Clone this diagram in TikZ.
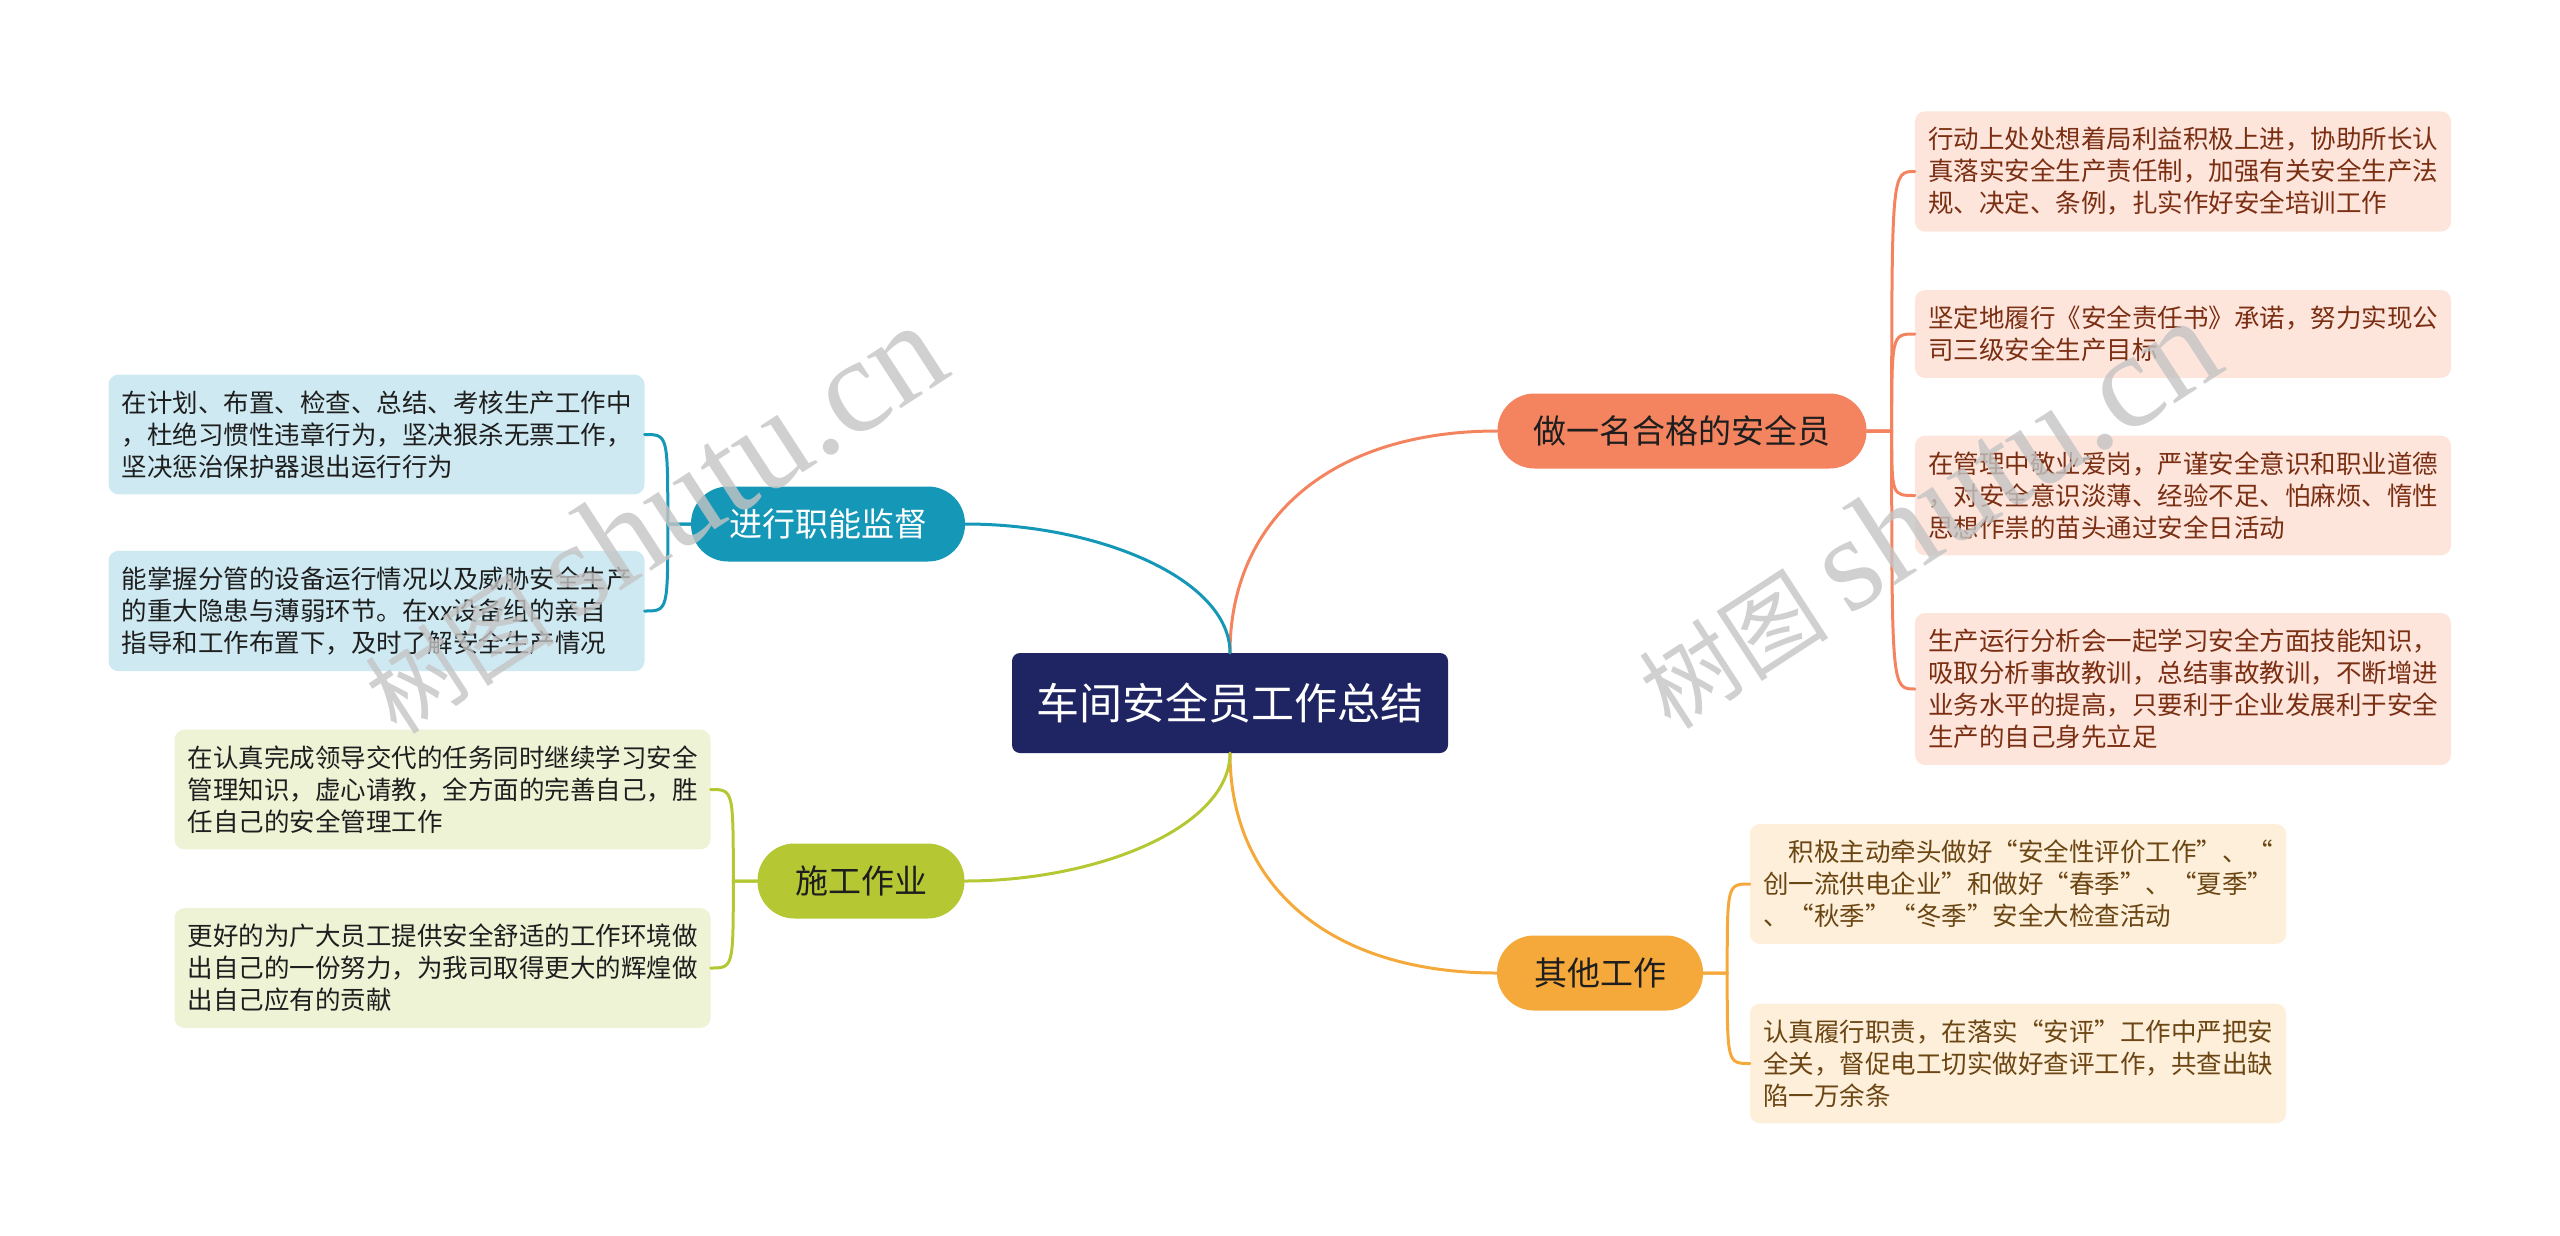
\documentclass[tikz,border=0pt]{standalone}
\usepackage{fontspec}
\setmainfont{Noto Sans CJK SC}
\newfontfamily\wmserif{Liberation Serif}
\usetikzlibrary{calc}
\definecolor{cNavy}{HTML}{1F2562}
\definecolor{cOrange}{HTML}{F4845F}
\definecolor{cAmber}{HTML}{F6A93B}
\definecolor{cTeal}{HTML}{1597B7}
\definecolor{cLime}{HTML}{B5C834}
\definecolor{lOrange}{HTML}{FDE5DC}
\definecolor{lAmber}{HTML}{FDEFD9}
\definecolor{lTeal}{HTML}{CEE9F1}
\definecolor{lLime}{HTML}{EFF3D6}
\definecolor{tOrange}{HTML}{7A2E12}
\definecolor{tAmber}{HTML}{6B4513}
\definecolor{tDark}{HTML}{1E1E1E}
\definecolor{wmGray}{HTML}{C4C4C4}
\begin{document}
\begin{tikzpicture}[x=1pt,y=-1pt,
  topic/.style={fill=cNavy, text=white, rounded corners=8pt, minimum width=436pt, minimum height=100pt, inner sep=0pt, font=\fontsize{43}{50}\selectfont},
  branch/.style={rounded corners=37pt, minimum height=75pt, inner sep=0pt, font=\fontsize{33}{40}\selectfont},
  leaf/.style={rounded corners=10pt, text width=510pt, inner xsep=13pt, inner ysep=16pt, align=left, font=\fontsize{25.5}{32}\selectfont},
  link/.style={line width=3pt, line cap=round},
  wmark/.style={rotate=33, text=wmGray, opacity=0.8, font=\fontsize{95}{95}\selectfont}]
\useasboundingbox (0,0) rectangle (2560,1235);
% centre and main branches
\node[topic] (c) at (1230,703) {车间安全员工作总结};
\node[branch, fill=cOrange, text=tDark, minimum width=369pt] (b1) at (1682,431) {做一名合格的安全员};
\node[branch, fill=cAmber, text=tDark, minimum width=206pt] (b2) at (1600,973) {其他工作};
\node[branch, fill=cTeal, text=white, minimum width=274pt] (b3) at (828,524) {进行职能监督};
\node[branch, fill=cLime, text=tDark, minimum width=207pt] (b4) at (861,881) {施工作业};
% leaves on the right
\node[leaf, fill=lOrange, text=tOrange] (r1) at (2183,171.5) {行动上处处想着局利益积极上进，协助所长认\\真落实安全生产责任制，加强有关安全生产法\\规、决定、条例，扎实作好安全培训工作};
\node[leaf, fill=lOrange, text=tOrange] (r2) at (2183,334) {坚定地履行《安全责任书》承诺，努力实现公\\司三级安全生产目标};
\node[leaf, fill=lOrange, text=tOrange] (r3) at (2183,495.5) {在管理中敬业爱岗，严谨安全意识和职业道德\\，对安全意识淡薄、经验不足、怕麻烦、惰性\\思想作祟的苗头通过安全日活动};
\node[leaf, fill=lOrange, text=tOrange] (r4) at (2183,689) {生产运行分析会一起学习安全方面技能知识，\\吸取分析事故教训，总结事故教训，不断增进\\业务水平的提高，只要利于企业发展利于安全\\生产的自己身先立足};
\node[leaf, fill=lAmber, text=tAmber] (o1) at (2018,884) {\hspace*{1em}积极主动牵头做好“安全性评价工作”、“\\创一流供电企业”和做好“春季”、“夏季”\\、“秋季”“冬季”安全大检查活动};
\node[leaf, fill=lAmber, text=tAmber] (o2) at (2018,1063.5) {认真履行职责，在落实“安评”工作中严把安\\全关，督促电工切实做好查评工作，共查出缺\\陷一万余条};
% leaves on the left
\node[leaf, fill=lTeal, text=tDark] (l1) at (376.5,434.5) {在计划、布置、检查、总结、考核生产工作中\\，杜绝习惯性违章行为，坚决狠杀无票工作，\\坚决惩治保护器退出运行行为};
\node[leaf, fill=lTeal, text=tDark] (l2) at (376.5,611) {能掌握分管的设备运行情况以及威胁安全生产\\的重大隐患与薄弱环节。在xx设备组的亲自\\指导和工作布置下，及时了解安全生产情况};
\node[leaf, fill=lLime, text=tDark] (g1) at (442.5,789.5) {在认真完成领导交代的任务同时继续学习安全\\管理知识，虚心请教，全方面的完善自己，胜\\任自己的安全管理工作};
\node[leaf, fill=lLime, text=tDark] (g2) at (442.5,968) {更好的为广大员工提供安全舒适的工作环境做\\出自己的一份努力，为我司取得更大的辉煌做\\出自己应有的贡献};
% centre to branches
\draw[link, draw=cOrange] (c.north) .. controls +(0,-133) and +(-167,0) .. (b1.west);
\draw[link, draw=cAmber] (c.south) .. controls +(0,133) and +(-167,0) .. (b2.west);
\draw[link, draw=cTeal] (c.north) .. controls +(0,-73) and +(135,0) .. (b3.east);
\draw[link, draw=cLime] (c.south) .. controls +(0,73) and +(135,0) .. (b4.east);
% branches to leaves
\coordinate (b1r) at ($(b1.east)+(25,0)$);
\coordinate (b2r) at ($(b2.east)+(24,0)$);
\coordinate (b3l) at ($(b3.west)+(-23,0)$);
\coordinate (b4l) at ($(b4.west)+(-24,0)$);
\foreach \n in {r1,r2,r3,r4}
  \draw[link, draw=cOrange] (b1.east) -- (b1r) .. controls (b1r |- \n.west) .. (\n.west);
\foreach \n in {o1,o2}
  \draw[link, draw=cAmber] (b2.east) -- (b2r) .. controls (b2r |- \n.west) .. (\n.west);
\foreach \n in {l1,l2}
  \draw[link, draw=cTeal] (b3.west) -- (b3l) .. controls (b3l |- \n.east) .. (\n.east);
\foreach \n in {g1,g2}
  \draw[link, draw=cLime] (b4.west) -- (b4l) .. controls (b4l |- \n.east) .. (\n.east);
% watermarks
\node[wmark] (wm1) at (653,519) {树图 {\wmserif\fontsize{135}{135}\selectfont shutu.cn}};
\node[wmark] (wm2) at (1927,514) {树图 {\wmserif\fontsize{135}{135}\selectfont shutu.cn}};
\end{tikzpicture}
\end{document}
